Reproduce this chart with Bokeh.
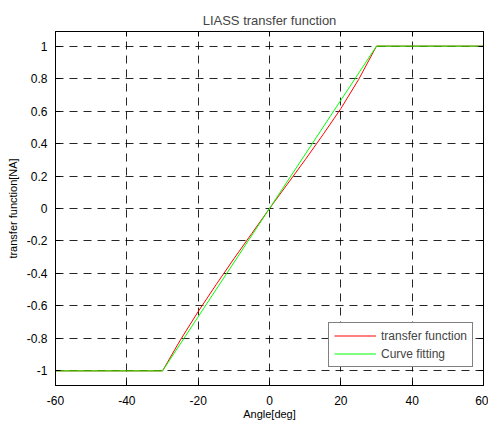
from bokeh.plotting import figure
from bokeh.models import (LinearAxis, Range1d, FixedTicker, Legend, LegendItem,
                          CustomJSTickFormatter)
from bokeh.embed import file_html
from bokeh.resources import INLINE

# ---- data ----
angle_tf = [-60, -30, -25, -20, -15, -10, -5, 0, 5, 10, 15, 20, 25, 30, 60]
transfer_function = [-1, -1, -0.81, -0.635, -0.47, -0.31, -0.155, 0, 0.15, 0.30, 0.455, 0.615, 0.795, 1, 1]

angle_fit = [-60, -30, 30, 60]
curve_fitting = [-1, -1, 1, 1]

x_ticks = [-60, -40, -20, 0, 20, 40, 60]
y_ticks = [-1, -0.8, -0.6, -0.4, -0.2, 0, 0.2, 0.4, 0.6, 0.8, 1]

FONT = "Liberation Sans"

p = figure(frame_width=428, frame_height=354,
           x_range=Range1d(-60, 60), y_range=Range1d(-1.09, 1.09),
           output_backend="svg", toolbar_location=None,
           min_border_left=55, min_border_top=31, min_border_right=5, min_border_bottom=36,
           title="LIASS transfer function")

p.background_fill_color = "white"
p.border_fill_color = "white"
p.outline_line_color = "black"
p.outline_line_width = 1

p.title.text_font = FONT
p.title.text_font_size = "13px"
p.title.text_font_style = "normal"
p.title.align = "center"
p.title.standoff = 8

fmt = CustomJSTickFormatter(code="return Number(tick.toFixed(1)).toString();")

for ax in [p.xaxis[0], p.yaxis[0]]:
    ax.major_tick_in = 5
    ax.major_tick_out = 0
    ax.minor_tick_line_color = None
    ax.axis_line_color = "black"
    ax.major_tick_line_color = "black"
    ax.major_label_text_font = FONT
    ax.major_label_text_font_size = "12px"
    ax.major_label_text_color = "black"
    ax.axis_label_text_font = FONT
    ax.axis_label_text_font_size = "11px"
    ax.axis_label_text_font_style = "normal"
    ax.axis_label_text_color = "black"
    ax.formatter = fmt

p.xaxis[0].ticker = FixedTicker(ticks=x_ticks)
p.yaxis[0].ticker = FixedTicker(ticks=y_ticks)
p.xaxis[0].axis_label = "Angle[deg]"
p.yaxis[0].axis_label = "transfer function[NA]"
p.xaxis[0].major_label_standoff = 10
p.yaxis[0].major_label_standoff = 8
p.xaxis[0].axis_label_standoff = 0
p.yaxis[0].axis_label_standoff = 5

blank = CustomJSTickFormatter(code="return '';")
for loc, ticks in [("above", x_ticks), ("right", y_ticks)]:
    ax = LinearAxis(ticker=FixedTicker(ticks=ticks), formatter=blank,
                    major_label_text_font_size="0px", major_label_text_color=None,
                    major_label_standoff=0,
                    major_tick_in=5, major_tick_out=0,
                    minor_tick_line_color=None, axis_line_color="black",
                    major_tick_line_color="black")
    p.add_layout(ax, loc)

p.xgrid.ticker = FixedTicker(ticks=x_ticks)
p.ygrid.ticker = FixedTicker(ticks=y_ticks)
for g in [p.xgrid[0], p.ygrid[0]]:
    g.grid_line_color = "black"
    g.grid_line_dash = "8 6"
    g.grid_line_width = 1
    g.grid_line_alpha = 0.85

r_tf = p.line(angle_tf, transfer_function, line_color="#ff0000", line_width=1)
r_fit = p.line(angle_fit, curve_fitting, line_color="#00ff00", line_width=1)

legend = Legend(items=[LegendItem(label="transfer function", renderers=[r_tf]),
                       LegendItem(label="Curve fitting", renderers=[r_fit])],
                location=(273, 18))
legend.label_text_font = FONT
legend.label_text_font_size = "12px"
legend.glyph_width = 42
legend.glyph_height = 15
legend.label_height = 15
legend.label_standoff = 5
legend.padding = 5
legend.spacing = 3
legend.margin = 0
legend.border_line_color = "black"
legend.border_line_width = 1
legend.background_fill_color = "white"
legend.background_fill_alpha = 1
p.add_layout(legend, "center")

open("out.html", "w").write(file_html(p, INLINE))
